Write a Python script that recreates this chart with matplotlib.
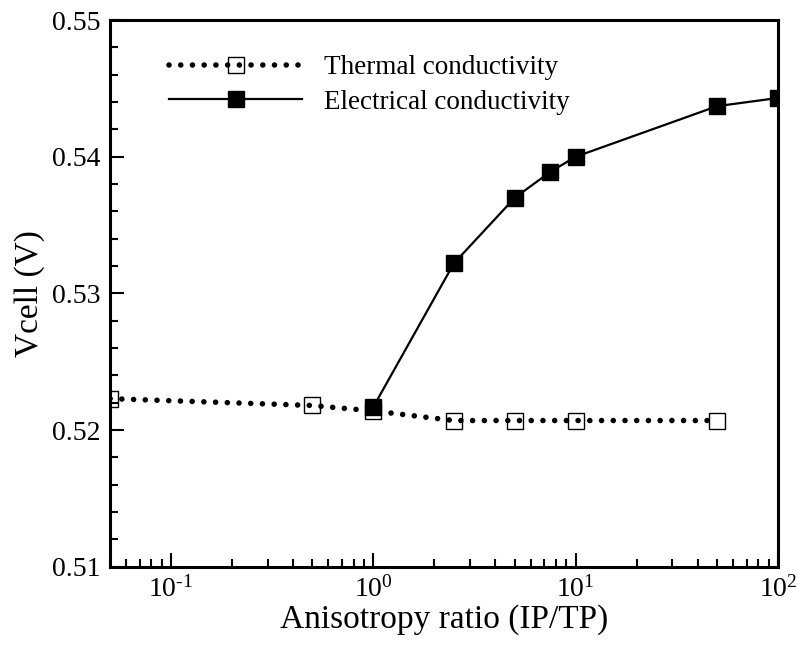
import numpy as np
import matplotlib
matplotlib.use("Agg")
import matplotlib.pyplot as plt
from matplotlib.ticker import MultipleLocator, FormatStrFormatter, LogLocator, FuncFormatter

# data
thermal_ratio = [0.05, 0.5, 1, 2.5, 5, 10, 50]
thermal_vcell = [0.5223, 0.5218, 0.5214, 0.5207, 0.5207, 0.5207, 0.5207]
elec_ratio = [1, 2.5, 5, 7.5, 10, 50, 100]
elec_vcell = [0.5217, 0.5322, 0.5370, 0.5389, 0.5400, 0.5437, 0.5443]

plt.rcParams['font.family'] = ['Liberation Serif', 'DejaVu Serif']
plt.rcParams['mathtext.fontset'] = 'custom'
plt.rcParams['mathtext.rm'] = 'Liberation Serif'
plt.rcParams['axes.unicode_minus'] = False


def decade_label(val, pos):
    e = int(round(np.log10(val)))
    return r"$\mathdefault{10^{\text{%d}}}$" % e


fig = plt.figure(figsize=(7.98, 6.47), dpi=100)
ax = fig.add_axes([0.138, 0.124, 0.837, 0.845])

ax.plot(thermal_ratio, thermal_vcell, color="black", lw=4.0,
        linestyle=(0, (0.01, 2.1)), dash_capstyle="round",
        marker="s", markersize=11.5, markerfacecolor="none",
        markeredgecolor="black", markeredgewidth=1.0,
        label="Thermal conductivity")
ax.plot(elec_ratio, elec_vcell, color="black", lw=1.6,
        marker="s", markersize=11.5, markerfacecolor="black",
        markeredgecolor="black", label="Electrical conductivity")

ax.set_xscale("log")
ax.set_xlim(0.05, 100)
ax.set_ylim(0.51, 0.55)

ax.yaxis.set_major_locator(MultipleLocator(0.01))
ax.yaxis.set_minor_locator(MultipleLocator(0.002))
ax.yaxis.set_major_formatter(FormatStrFormatter("%.2f"))
ax.xaxis.set_major_locator(LogLocator(base=10, numticks=10))
ax.xaxis.set_minor_locator(LogLocator(base=10, subs=np.arange(2, 10), numticks=10))
ax.xaxis.set_major_formatter(FuncFormatter(decade_label))

ax.tick_params(which="both", direction="in", top=False, right=False,
               labelsize=20, width=1.5)
ax.tick_params(which="major", length=10, pad=7)
ax.tick_params(which="minor", length=6)
for s in ax.spines.values():
    s.set_linewidth(2.2)

ax.set_xlabel("Anisotropy ratio (IP/TP)", fontsize=24, labelpad=1)
ax.set_ylabel("Vcell (V)", fontsize=24, labelpad=5)

ax.legend(loc="upper left", bbox_to_anchor=(0.052, 0.98), frameon=False,
          fontsize=19.5, handlelength=4.9, handletextpad=0.8,
          numpoints=1, labelspacing=0.35)

fig.savefig("out.png", dpi=100)
